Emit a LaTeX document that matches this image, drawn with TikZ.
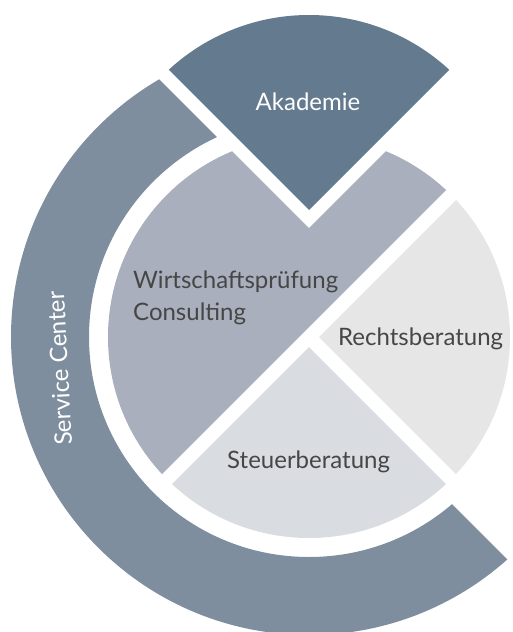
\documentclass[tikz,border=0pt]{standalone}
\usepackage{fontspec}
\setmainfont{Lato}
\begin{document}
\begin{tikzpicture}[x=1pt,y=1pt,
  lbl/.style={font=\fontsize{24}{28}\selectfont, inner sep=0pt, text=txtgray},
  wlbl/.style={lbl, text=white}]
\definecolor{akad}{HTML}{647B8F}
\definecolor{serv}{HTML}{7F8E9E}
\definecolor{wirt}{HTML}{A9AFBC}
\definecolor{steu}{HTML}{D9DCE1}
\definecolor{rech}{HTML}{E6E6E6}
\definecolor{txtgray}{HTML}{464646}
\useasboundingbox (0,-632) rectangle (512,0);
\begin{scope}[shift={(309,-337)}]
  % Service Center ring
  \begin{scope}
    \clip (54,54) -- (-400,508) -- (-400,-500) -- (476,-500) -- (-12,-12) -- cycle;
    \fill[serv, even odd rule] (0,0) circle (298) (0,0) circle (220);
  \end{scope}
  % Wirtschaftspruefung / Consulting
  \begin{scope}
    \clip (-400,-390) -- (400,410) -- (400,509) -- (0,109) -- (-400,509) -- cycle;
    \fill[wirt] (0,0) circle (201);
  \end{scope}
  % Rechtsberatung
  \begin{scope}
    \clip (10,0) -- (410,400) -- (410,-400) -- cycle;
    \fill[rech] (0,0) circle (201);
  \end{scope}
  % Steuerberatung
  \begin{scope}
    \clip (0,-10) -- (-400,-410) -- (400,-410) -- cycle;
    \fill[steu] (0,0) circle (201);
  \end{scope}
  % Akademie
  \begin{scope}
    \clip (0,127) -- (-400,527) -- (400,527) -- cycle;
    \fill[akad] (0,115) circle (207);
  \end{scope}
\end{scope}
\node[wlbl, anchor=base] (akademie) at (308,-110) {Akademie};
\node[lbl, anchor=base west] (wp) at (133,-288) {Wirtschaftsprüfung};
\node[lbl, anchor=base west] (cons) at (133,-320) {Consulting};
\node[lbl, anchor=base west] (recht) at (338,-345) {Rechtsberatung};
\node[lbl, anchor=base west] (steuer) at (227,-468) {Steuerberatung};
\node[wlbl, anchor=base, rotate=93] (service) at (68,-368) {Service Center};
\end{tikzpicture}
\end{document}
